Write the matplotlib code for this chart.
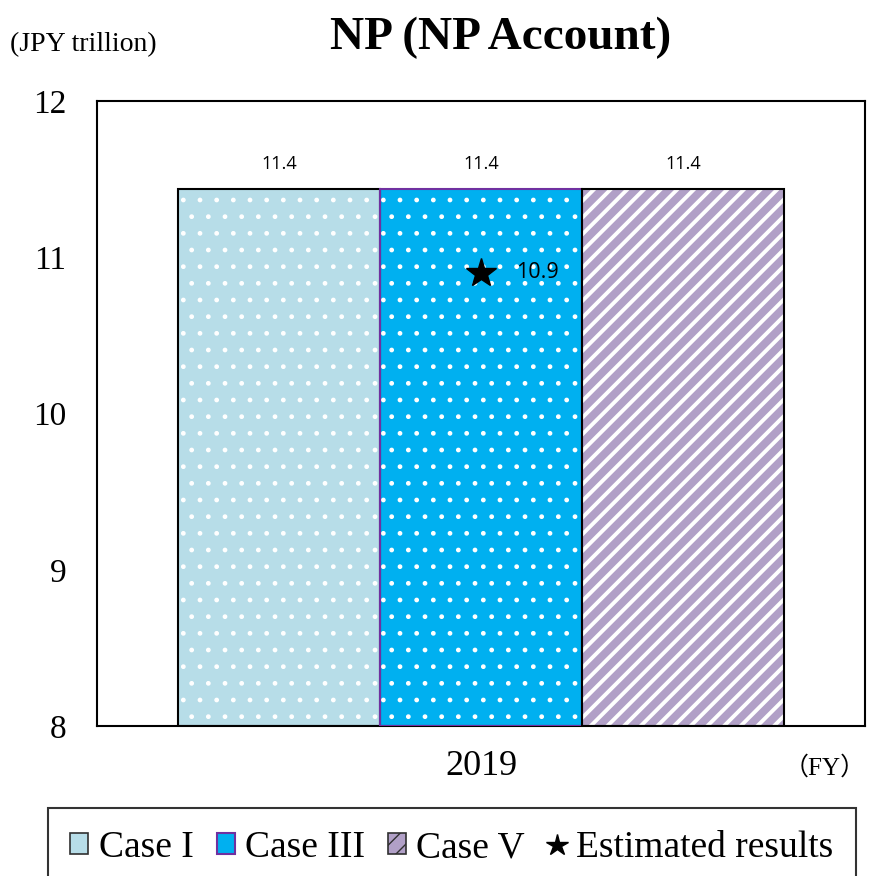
import numpy as np
import matplotlib
matplotlib.use("Agg")
import matplotlib.pyplot as plt
from matplotlib.patches import Patch
from matplotlib.lines import Line2D

cases = ["Case I", "Case III", "Case V"]
values = [11.44, 11.44, 11.44]
year_label = "2019"
estimated = 10.9
y_ticks = [8, 9, 10, 11, 12]

face_colors = ["#B7DDE8", "#00B0F0", "#B1A0C7"]
edge_colors = ["black", "#7030A0", "black"]
hatches = [".", ".", "//"]

SERIF = "Liberation Serif"

fig = plt.figure(figsize=(8.69, 8.76), dpi=100)
ax = fig.add_axes([97 / 869, 1 - 726 / 876, 768 / 869, 625 / 876])

width = 0.263
pos = np.array([-1, 0, 1]) * width

has_hlw = hasattr(matplotlib.patches.Patch, "set_hatch_linewidth")
if not has_hlw:
    plt.rcParams["hatch.linewidth"] = 2.8

for i in range(3):
    # fill + white hatch first, outline on top
    b = ax.bar(pos[i], values[i] - 8, width, bottom=8, color=face_colors[i],
               edgecolor="white", linewidth=0, hatch=hatches[i], zorder=2)
    if has_hlw:
        for p in b:
            p.set_hatch_linewidth(2.8 if hatches[i] == "//" else 1.0)
    ax.bar(pos[i], values[i] - 8, width, bottom=8, fill=False,
           edgecolor=edge_colors[i], linewidth=1.5, zorder=3)
    ax.text(pos[i], values[i] + 0.1, f"{values[i]:.1f}", ha="center", va="bottom",
            fontsize=13, family="Open Sans")

ax.plot([0], [estimated], marker="*", color="black", markersize=22, linestyle="none", zorder=4)
ax.text(0.045, estimated, f"{estimated:.1f}", ha="left", va="center", fontsize=15.5,
        family="Open Sans", zorder=4)

ax.set_xlim(-0.5, 0.5)
ax.set_ylim(8, 12)
ax.set_yticks(y_ticks)
ax.set_yticklabels([str(t) for t in y_ticks], family=SERIF, fontsize=24)
ax.set_xticks([0])
ax.set_xticklabels([year_label], family=SERIF, fontsize=26)
ax.tick_params(axis="y", length=0, pad=22)
ax.tick_params(axis="x", length=0, pad=17)
for s in ax.spines.values():
    s.set_linewidth(1.5)

fig.text(501 / 869, 1 - 38 / 876, "NP (NP Account)", ha="center", va="center",
         fontsize=34, fontweight="bold", family=SERIF)
fig.text(10 / 869, 1 - 45 / 876, "(JPY trillion)", ha="left", va="center",
         fontsize=20, family=SERIF)
fig.text(866 / 869, 1 - 768 / 876, "（FY）", ha="right", va="center",
         fontsize=18, family=[SERIF, "Noto Sans CJK JP"])

handles = [
    Patch(facecolor=face_colors[0], edgecolor="#303030", linewidth=1.2),
    Patch(facecolor=face_colors[1], edgecolor=edge_colors[1], linewidth=1.5),
    Patch(facecolor=face_colors[2], edgecolor="#303030", linewidth=1.2, hatch="//"),
    Line2D([], [], marker="*", color="black", linestyle="none", markersize=16),
]
leg = fig.legend(handles, cases + ["Estimated results"], loc="upper center",
                 bbox_to_anchor=(452 / 869, 1 - 808 / 876), ncol=4,
                 prop={"family": SERIF, "size": 27}, frameon=True, fancybox=False,
                 handlelength=0.48, handleheight=0.48, handletextpad=0.27,
                 columnspacing=0.62, borderpad=0.6, borderaxespad=0)
leg.get_frame().set_edgecolor("black")
leg.get_frame().set_linewidth(1.5)

plt.savefig("out.png", dpi=100)
plt.close()
